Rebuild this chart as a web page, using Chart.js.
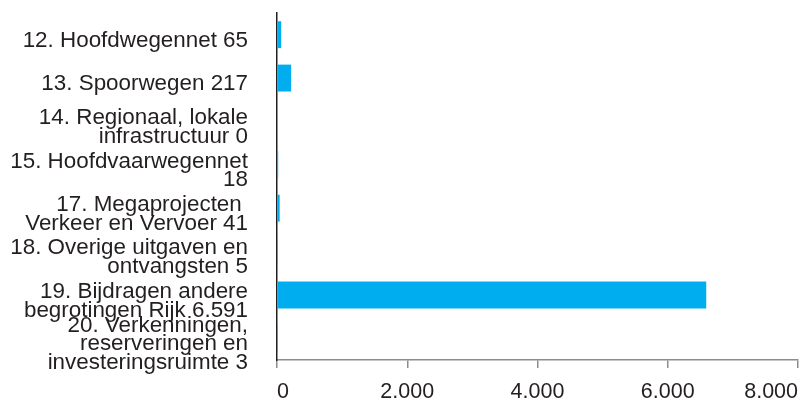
<!DOCTYPE html>
<html>
<head>
<meta charset="utf-8">
<script src="https://cdn.jsdelivr.net/npm/chart.js@4/dist/chart.umd.min.js"></script>
<style>
  html, body { margin: 0; padding: 0; background: #fff; }
  #wrap { width: 802px; height: 401px; }
</style>
</head>
<body>
<div id="wrap"><canvas id="chart"></canvas></div>
<script>
// Budget items (in millions)
const categories = [
  ['12. Hoofdwegennet 65'],
  ['13. Spoorwegen 217'],
  ['14. Regionaal, lokale', 'infrastructuur 0'],
  ['15. Hoofdvaarwegennet', '18'],
  ['17. Megaprojecten ', 'Verkeer en Vervoer 41'],
  ['18. Overige uitgaven en', 'ontvangsten 5'],
  ['19. Bijdragen andere', 'begrotingen Rijk 6.591'],
  ['20. Verkenningen,', 'reserveringen en', 'investeringsruimte 3'],
];
const values = [65, 217, 0, 18, 41, 5, 6591, 3];
const xTicks = [0, 2000, 4000, 6000, 8000];

const TEXT_COLOR = '#231f20';
const BAR_COLOR = '#00aeef';
const FONT = "'Liberation Sans', Arial, sans-serif";

const fmt = (v) => v.toLocaleString('nl-NL');

new Chart(document.getElementById('chart'), {
  type: 'bar',
  data: {
    labels: categories,
    datasets: [
      {
        data: values,
        backgroundColor: BAR_COLOR,
        borderWidth: 0,
        barPercentage: 0.62,
        categoryPercentage: 1,
      },
    ],
  },
  options: {
    indexAxis: 'y',
    responsive: true,
    maintainAspectRatio: false,
    animation: false,
    layout: { padding: { top: 13, right: 4, left: 0, bottom: 0 } },
    plugins: {
      legend: { display: false },
      tooltip: { enabled: false },
    },
    scales: {
      x: {
        min: 0,
        max: 8000,
        afterBuildTicks: (scale) => {
          scale.ticks = xTicks.map((v) => ({ value: v }));
        },
        afterFit: (scale) => {
          scale.height = 41;
          scale.paddingLeft = 0;
          scale.paddingRight = 0;
        },
        grid: {
          drawOnChartArea: false,
          drawTicks: true,
          tickLength: 8,
          color: '#8c8c8c',
          lineWidth: 1.5,
        },
        border: { display: true, color: '#8c8c8c', width: 1.5 },
        ticks: {
          color: TEXT_COLOR,
          font: { family: FONT, size: 21.5 },
          padding: 11,
          align: 'inner',
          maxRotation: 0,
          callback: (v) => fmt(v),
        },
      },
      y: {
        afterFit: (scale) => {
          scale.width = 277;
          scale.paddingTop = 0;
          scale.paddingBottom = 0;
        },
        grid: { display: false, drawTicks: false },
        border: { display: true, color: TEXT_COLOR, width: 1.5 },
        ticks: {
          color: TEXT_COLOR,
          font: { family: FONT, size: 22.4, lineHeight: 0.84 },
          padding: 29,
          autoSkip: false,
          labelOffset: 6,
        },
      },
    },
  },
});
</script>
</body>
</html>
